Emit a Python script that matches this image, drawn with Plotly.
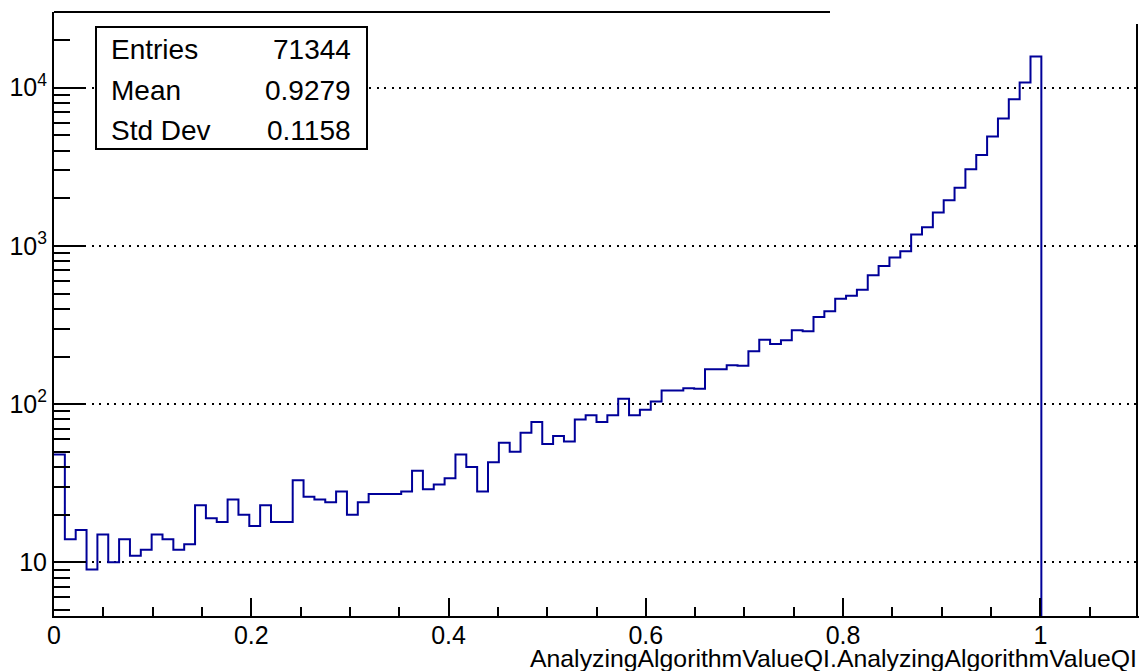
import numpy as np
import plotly.graph_objects as go

# Histogram definition: 100 equal bins over [0, 1.1]
x_min, x_max, n_bins = 0.0, 1.1, 100
counts = [48, 14, 16, 9, 15, 10, 14, 11, 12, 15,
          14, 12, 13, 23, 19, 18, 25, 20, 17, 23,
          18, 18, 33, 26, 25, 24, 28, 20, 24, 27,
          27, 27, 28, 38, 29, 31, 34, 48, 40, 28,
          43, 57, 50, 66, 77, 56, 63, 58, 80, 85,
          77, 85, 108, 85, 92, 104, 122, 122, 126, 125,
          166, 166, 176, 175, 216, 255, 240, 253, 293, 289,
          356, 386, 464, 485, 529, 653, 747, 844, 926, 1179,
          1312, 1624, 1945, 2336, 3053, 3761, 4909, 6378, 8461, 10772,
          15727, 0, 0, 0, 0, 0, 0, 0, 0, 0]

stat_names = ["Entries", "Mean", "Std Dev"]
stat_values = ["71344", "0.9279", "0.1158"]

x_tick_vals = [0, 0.2, 0.4, 0.6, 0.8, 1.0]
x_tick_text = ["0", "0.2", "0.4", "0.6", "0.8", "1"]
y_tick_vals = [10, 100, 1000, 10000]
y_tick_text = ["10", "10<sup>2</sup>", "10<sup>3</sup>", "10<sup>4</sup>"]
x_title = "AnalyzingAlgorithmValueQI.AnalyzingAlgorithmValueQI"

# Axis limits (log10 for y)
y_log_range = [0.661, 4.4785]

# Step outline: empty bins sit below the visible range and get clipped
floor = 1.0
edges = np.linspace(x_min, x_max, n_bins + 1)
heights = [c if c > 0 else floor for c in counts]
step_x = list(edges)
step_y = heights + [heights[-1]]

# Minor log ticks (2..9 per decade) inside the visible range
minor_vals = []
for dec in range(0, 5):
    for m in range(2, 10):
        v = m * 10 ** dec
        if 10 ** y_log_range[0] <= v <= 10 ** y_log_range[1]:
            minor_vals.append(v)

W, H = 1139, 671
ML, MR, MT, MB = 54, 0, 12, 55
PW, PH = W - ML - MR, H - MT - MB


def px(xp):
    return (xp - ML) / PW


def py(yp):
    return (H - MB - yp) / PH


font_family = "Liberation Sans, Arial, Helvetica, sans-serif"
line_col = "#000099"

fig = go.Figure()
fig.add_trace(go.Scatter(
    x=step_x, y=step_y, mode="lines",
    line=dict(color=line_col, width=2, shape="hv"),
    hoverinfo="skip", showlegend=False,
))

fig.update_layout(
    width=W, height=H,
    margin=dict(l=ML, r=MR, t=MT, b=MB, pad=0),
    paper_bgcolor="white", plot_bgcolor="white",
    font=dict(family=font_family, color="black"),
    showlegend=False,
    xaxis=dict(
        range=[x_min, x_max], showgrid=False, zeroline=False,
        showline=True, linecolor="black", linewidth=2,
        ticks="inside", ticklen=18, tickwidth=2, tickcolor="black",
        tickmode="array", tickvals=x_tick_vals, ticktext=x_tick_text,
        tickfont=dict(size=25, family=font_family),
        ticklabelstandoff=-4,
        minor=dict(ticks="inside", ticklen=9, tickwidth=2, tickcolor="black",
                   tick0=0, dtick=0.05, showgrid=False),
        automargin=False,
    ),
    yaxis=dict(
        type="log", range=y_log_range, zeroline=False,
        showline=True, linecolor="black", linewidth=2,
        ticks="inside", ticklen=32, tickwidth=2, tickcolor="black",
        tickmode="array", tickvals=y_tick_vals, ticktext=y_tick_text,
        tickfont=dict(size=25, family=font_family),
        showgrid=True, gridcolor="black", gridwidth=2, griddash="2px,5.5px",
        minor=dict(ticks="inside", ticklen=16, tickwidth=2, tickcolor="black",
                   tickmode="array", tickvals=minor_vals, showgrid=False),
        automargin=False,
    ),
)

shapes = [
    # partial top and right frame edges
    dict(type="line", xref="paper", yref="paper",
         x0=0, x1=px(830), y0=1, y1=1, line=dict(color="black", width=2)),
    dict(type="line", xref="paper", yref="paper",
         x0=px(1137), x1=px(1137), y0=0, y1=py(24), line=dict(color="black", width=2)),
    # statistics box
    dict(type="rect", xref="paper", yref="paper",
         x0=px(96), x1=px(367), y0=py(149), y1=py(27),
         line=dict(color="black", width=2), fillcolor="white"),
]

annotations = []
row_y = [49, 90, 131]
for name, val, yc in zip(stat_names, stat_values, row_y):
    annotations.append(dict(xref="paper", yref="paper", x=px(109), y=py(yc),
                            xanchor="left", yanchor="middle", text=name, showarrow=False,
                            font=dict(size=28, family=font_family, color="black")))
    annotations.append(dict(xref="paper", yref="paper", x=px(353), y=py(yc),
                            xanchor="right", yanchor="middle", text=val, showarrow=False,
                            font=dict(size=28, family=font_family, color="black")))

annotations.append(dict(xref="paper", yref="paper", x=px(1139), y=py(658),
                        xanchor="right", yanchor="middle", text=x_title, showarrow=False,
                        font=dict(size=24.8, family=font_family, color="black")))

fig.update_layout(shapes=shapes, annotations=annotations)

fig.write_html("out.html")
